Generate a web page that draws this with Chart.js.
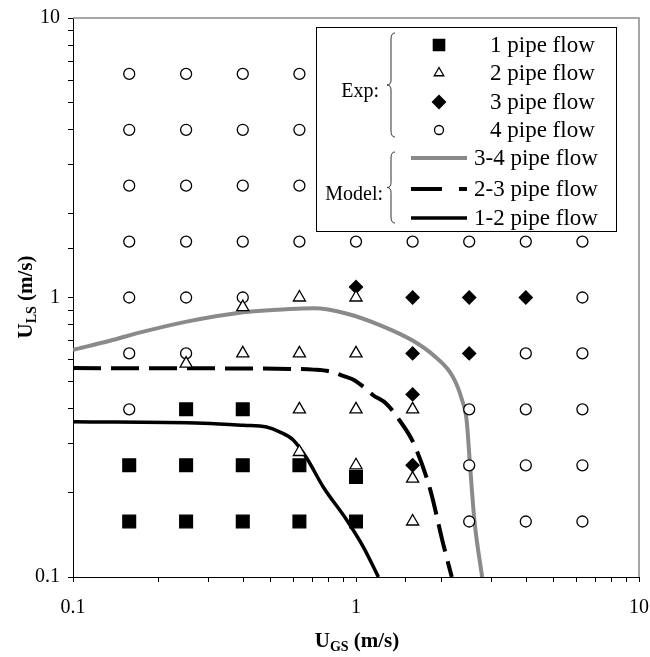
<!DOCTYPE html>
<html>
<head>
<meta charset="utf-8">
<script src="https://cdn.jsdelivr.net/npm/chart.js@4.4.1/dist/chart.umd.min.js"></script>
<style>
  html, body { margin: 0; padding: 0; background: #fff; }
  canvas { display: block; }
</style>
</head>
<body>
<canvas id="flowMap" width="650" height="657"></canvas>
<script>
// ---------------------------------------------
// Flow pattern map, U_GS vs U_LS (log-log)
// values, in m/s
// ---------------------------------------------

// Exp: 1 pipe flow (filled squares)
const onePipeUgs = [0.158, 0.158, 0.251, 0.251, 0.251, 0.398, 0.398, 0.398, 0.631, 0.631, 1, 1];
const onePipeUls = [0.251, 0.158, 0.398, 0.251, 0.158, 0.398, 0.251, 0.158, 0.251, 0.158, 0.228, 0.158];

// Exp: 2 pipe flow (open triangles)
const twoPipeUgs = [0.251, 0.398, 0.398, 0.631, 0.631, 0.631, 0.631, 1, 1, 1, 1, 1.585, 1.585, 1.585];
const twoPipeUls = [0.58, 0.924, 0.631, 1, 0.631, 0.398, 0.28, 1, 0.631, 0.398, 0.251, 0.398, 0.225, 0.158];

// Exp: 3 pipe flow (filled diamonds)
const threePipeUgs = [1, 1.585, 2.512, 3.981, 1.585, 2.512, 1.585, 1.585];
const threePipeUls = [1.09, 1, 1, 1, 0.631, 0.631, 0.45, 0.251];

// Exp: 4 pipe flow (open circles)
const fourPipeUgs = [
  0.158, 0.158, 0.158, 0.158, 0.158, 0.158, 0.158,
  0.251, 0.251, 0.251, 0.251, 0.251, 0.251,
  0.398, 0.398, 0.398, 0.398, 0.398,
  0.631, 0.631, 0.631, 0.631,
  1, 1.585,
  2.512, 2.512, 2.512, 2.512,
  3.981, 3.981, 3.981, 3.981, 3.981,
  6.31, 6.31, 6.31, 6.31, 6.31, 6.31
];
const fourPipeUls = [
  6.31, 3.981, 2.512, 1.585, 1, 0.631, 0.398,
  6.31, 3.981, 2.512, 1.585, 1, 0.631,
  6.31, 3.981, 2.512, 1.585, 1,
  6.31, 3.981, 2.512, 1.585,
  1.585, 1.585,
  1.585, 0.398, 0.251, 0.158,
  1.585, 0.631, 0.398, 0.251, 0.158,
  1.585, 1, 0.631, 0.398, 0.251, 0.158
];

// Model: transition boundaries
const model34Ugs = [0.1, 0.135, 0.173, 0.252, 0.40, 0.585, 0.71, 0.93, 1.22, 1.59, 1.9, 2.2, 2.37, 2.46, 2.53, 2.62, 2.79];
const model34Uls = [0.65, 0.70, 0.75, 0.82, 0.886, 0.91, 0.915, 0.875, 0.795, 0.70, 0.615, 0.52, 0.43, 0.364, 0.25, 0.16, 0.1];

const model23Ugs = [0.1, 0.3, 0.585, 0.707, 0.83, 0.9, 0.98, 1.06, 1.15, 1.28, 1.41, 1.6, 1.83, 2.03, 2.18];
const model23Uls = [0.559, 0.558, 0.555, 0.552, 0.541, 0.524, 0.508, 0.48, 0.447, 0.417, 0.369, 0.30, 0.205, 0.132, 0.1];

const model12Ugs = [0.1, 0.289, 0.40, 0.483, 0.539, 0.6, 0.67, 0.766, 0.927, 1.062, 1.2];
const model12Uls = [0.359, 0.355, 0.349, 0.344, 0.33, 0.309, 0.266, 0.21, 0.16, 0.128, 0.1];

const axisTicks = [0.1, 1, 10];

const FONT = "'Liberation Serif', 'Times New Roman', serif";
const GREY = "#8a8a8a";
const DASH = [28, 10];

function toPoints(xs, ys) {
  return xs.map((x, i) => ({ x: x, y: ys[i] }));
}

function markerSet(label, xs, ys, style, radius, filled, order) {
  return {
    label: label,
    data: toPoints(xs, ys),
    showLine: false,
    pointStyle: style,
    pointRadius: radius,
    pointHoverRadius: radius,
    pointBorderWidth: 1.3,
    pointBorderColor: "#000",
    pointBackgroundColor: filled ? "#000" : "#fff",
    order: order
  };
}

function lineSet(label, xs, ys, color, width, dash) {
  return {
    label: label,
    data: toPoints(xs, ys),
    showLine: true,
    borderColor: color,
    borderWidth: width,
    borderDash: dash,
    pointRadius: 0,
    cubicInterpolationMode: "monotone",
    order: 10
  };
}

// axis titles with subscripts
const axisTitles = {
  id: "axisTitles",
  afterDraw(chart) {
    const { ctx } = chart;

    function drawTitle(main, sub, rest, cx, cy) {
      ctx.font = "bold 21px " + FONT;
      const w1 = ctx.measureText(main).width;
      const w3 = ctx.measureText(rest).width;
      ctx.font = "bold 14px " + FONT;
      const w2 = ctx.measureText(sub).width;
      let x = cx - (w1 + w2 + w3) / 2;
      ctx.fillStyle = "#000";
      ctx.textAlign = "left";
      ctx.textBaseline = "alphabetic";
      ctx.font = "bold 21px " + FONT;
      ctx.fillText(main, x, cy + 7);
      x += w1;
      ctx.font = "bold 14px " + FONT;
      ctx.fillText(sub, x, cy + 11);
      x += w2;
      ctx.font = "bold 21px " + FONT;
      ctx.fillText(rest, x, cy + 7);
    }

    ctx.save();
    drawTitle("U", "GS", " (m/s)", 357, 640);
    ctx.translate(25, 297);
    ctx.rotate(-Math.PI / 2);
    drawTitle("U", "LS", " (m/s)", 0, 0);
    ctx.restore();
  }
};

// grey frame on top and right
const plotFrame = {
  id: "plotFrame",
  beforeDatasetsDraw(chart) {
    const { ctx, chartArea } = chart;
    ctx.save();
    ctx.strokeStyle = GREY;
    ctx.lineWidth = 1.5;
    ctx.beginPath();
    ctx.moveTo(chartArea.left, chartArea.top);
    ctx.lineTo(chartArea.right, chartArea.top);
    ctx.lineTo(chartArea.right, chartArea.bottom);
    ctx.stroke();
    ctx.restore();
  }
};

// legend box with the two braces
const legendBox = {
  id: "legendBox",
  afterDraw(chart) {
    const { ctx } = chart;
    const drawPoint = Chart.helpers.drawPoint;

    ctx.save();
    ctx.fillStyle = "#fff";
    ctx.strokeStyle = "#000";
    ctx.lineWidth = 1;
    ctx.fillRect(316, 27, 301, 205);
    ctx.strokeRect(316.5, 27.5, 300, 204);

    function brace(x, top, bottom) {
      const mid = (top + bottom) / 2;
      ctx.beginPath();
      ctx.moveTo(x + 6, top);
      ctx.quadraticCurveTo(x + 2, top, x + 2, top + 6);
      ctx.lineTo(x + 2, mid - 5);
      ctx.quadraticCurveTo(x + 2, mid, x - 2, mid);
      ctx.quadraticCurveTo(x + 2, mid, x + 2, mid + 5);
      ctx.lineTo(x + 2, bottom - 6);
      ctx.quadraticCurveTo(x + 2, bottom, x + 6, bottom);
      ctx.strokeStyle = "#333";
      ctx.lineWidth = 1;
      ctx.stroke();
    }
    brace(389, 33, 137);
    brace(389, 152, 223);

    ctx.fillStyle = "#000";
    ctx.font = "20px " + FONT;
    ctx.textAlign = "right";
    ctx.textBaseline = "middle";
    ctx.fillText("Exp:", 379, 92);
    ctx.fillText("Model:", 383, 195);

    const markers = [
      { text: "1 pipe flow", style: "rect", r: 8, fill: "#000", y: 45 },
      { text: "2 pipe flow", style: "triangle", r: 5.5, fill: "#fff", y: 73 },
      { text: "3 pipe flow", style: "rectRot", r: 6.5, fill: "#000", y: 102 },
      { text: "4 pipe flow", style: "circle", r: 4.5, fill: "#fff", y: 130 }
    ];
    ctx.textAlign = "left";
    ctx.font = "23px " + FONT;
    markers.forEach(m => {
      ctx.fillStyle = m.fill;
      ctx.strokeStyle = "#000";
      ctx.lineWidth = 1.3;
      drawPoint(ctx, { pointStyle: m.style, radius: m.r, rotation: 0, borderWidth: 1.3 }, 439, m.y);
      ctx.fillStyle = "#000";
      ctx.fillText(m.text, 490, m.y + 1);
    });

    const lines = [
      { text: "3-4 pipe flow", color: GREY, width: 4, dash: [], y: 158 },
      { text: "2-3 pipe flow", color: "#000", width: 4, dash: [31, 17], y: 189 },
      { text: "1-2 pipe flow", color: "#000", width: 3.5, dash: [], y: 218 }
    ];
    lines.forEach(l => {
      ctx.beginPath();
      ctx.setLineDash(l.dash);
      ctx.strokeStyle = l.color;
      ctx.lineWidth = l.width;
      ctx.moveTo(411, l.y);
      ctx.lineTo(467, l.y);
      ctx.stroke();
      ctx.setLineDash([]);
      ctx.fillStyle = "#000";
      ctx.fillText(l.text, 474, l.y + 1);
    });
    ctx.restore();
  }
};

function powerLabel(value) {
  return axisTicks.some(t => Math.abs(t - value) < 1e-9) ? String(value) : "";
}

const logAxis = (pos, size, pad) => ({
  type: "logarithmic",
  position: pos,
  min: 0.1,
  max: 10,
  grid: {
    drawOnChartArea: false,
    drawTicks: true,
    tickLength: 5,
    color: "#000",
    lineWidth: 1
  },
  border: { color: "#000", width: 1 },
  ticks: {
    autoSkip: false,
    maxRotation: 0,
    padding: pad,
    color: "#000",
    font: { family: FONT, size: 20 },
    callback: powerLabel
  },
  afterFit(scale) {
    if (pos === "left") scale.width = size;
    else scale.height = size;
    // the edge labels may overhang, keep the plot box fixed
    scale.paddingLeft = 0;
    scale.paddingRight = 0;
    scale.paddingTop = 0;
    scale.paddingBottom = 0;
  }
});

new Chart(document.getElementById("flowMap"), {
  type: "scatter",
  data: {
    datasets: [
      markerSet("1 pipe flow", onePipeUgs, onePipeUls, "rect", 9, true, 1),
      markerSet("2 pipe flow", twoPipeUgs, twoPipeUls, "triangle", 7, false, 2),
      markerSet("3 pipe flow", threePipeUgs, threePipeUls, "rectRot", 6.5, true, 3),
      markerSet("4 pipe flow", fourPipeUgs, fourPipeUls, "circle", 5.5, false, 4),
      lineSet("3-4 pipe flow", model34Ugs, model34Uls, GREY, 4, []),
      lineSet("2-3 pipe flow", model23Ugs, model23Uls, "#000", 4, DASH),
      lineSet("1-2 pipe flow", model12Ugs, model12Uls, "#000", 3.5, [])
    ]
  },
  plugins: [plotFrame, legendBox, axisTitles],
  options: {
    responsive: false,
    devicePixelRatio: 1,
    animation: false,
    layout: { padding: { top: 18, right: 11, left: 0, bottom: 0 } },
    scales: {
      x: logAxis("bottom", 80, 14),
      y: logAxis("left", 73, 8)
    },
    plugins: {
      legend: { display: false },
      tooltip: { enabled: false }
    }
  }
});
</script>
</body>
</html>
